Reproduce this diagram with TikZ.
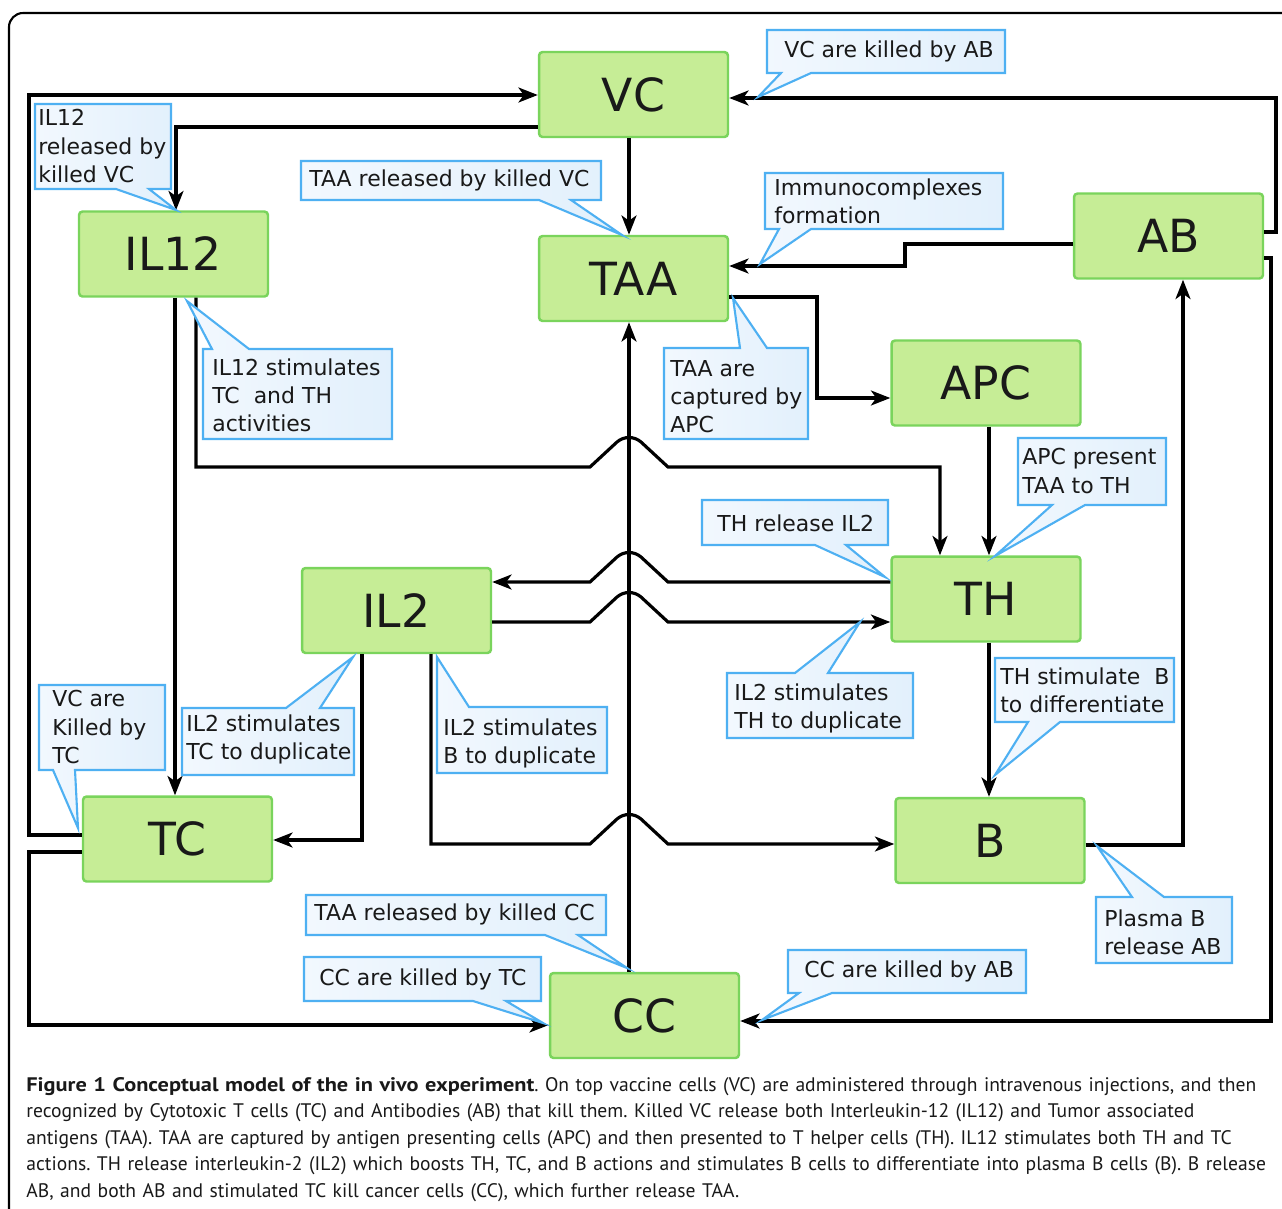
\documentclass[tikz,border=0pt]{standalone}
\usepackage{fontspec}
\setmainfont{DejaVu Sans}
\newfontfamily\capfont[BoldFeatures={FakeStretch=1.14}]{PT Sans}
\usetikzlibrary{arrows.meta}
\frenchspacing

\definecolor{cellfill}{RGB}{198,237,150}
\definecolor{cellline}{RGB}{122,212,92}
\definecolor{notebd}{RGB}{78,176,242}
\definecolor{notefillA}{RGB}{242,248,254}
\definecolor{notefillB}{RGB}{226,240,252}
\definecolor{ink}{RGB}{25,25,25}

\tikzset{
  cell/.style={draw=cellline, fill=cellfill, line width=1.4pt, rounded corners=2pt,
    minimum width=3.78cm, minimum height=1.7cm, inner sep=0pt, text=ink,
    font=\fontsize{26}{30}\selectfont},
  arr/.style={line width=1.8pt, -{Stealth[length=11pt,width=8.5pt,inset=3pt]}},
  note/.style={draw=notebd, line width=1.2pt, left color=notefillA, right color=notefillB},
  notetext/.style={anchor=west, align=left, inner sep=0pt, text=ink,
    font=\fontsize{12.5}{16}\selectfont}
}

% hop over the long TAA line, left to right and right to left
\newcommand{\hop}[1]{-- (617,{#1-25}) .. controls (624,{#1-31}) and (634,{#1-31}) .. (641,{#1-25}) -- (668,#1)}
\newcommand{\hopback}[1]{-- (641,{#1-25}) .. controls (634,{#1-31}) and (624,{#1-31}) .. (617,{#1-25}) -- (590,#1)}

\begin{document}
\begin{tikzpicture}[x=0.02cm, y=-0.02cm]
\useasboundingbox (0,0) rectangle (1282,1208);
\clip (0,0) rectangle (1282,1208);
\fill[white] (0,0) rectangle (1282,1208);
\draw[line width=1.2pt, rounded corners=8pt] (9,1240) -- (9,13) -- (1300,13);

% cells
\node[cell] (vc) at (633.5,94.5) {VC};
\node[cell] (il12) at (173.5,254) {IL12};
\node[cell] (taa) at (633.5,278.5) {TAA};
\node[cell] (ab) at (1168.5,236) {AB};
\node[cell] (apc) at (986,383) {APC};
\node[cell] (th) at (986,599) {TH};
\node[cell] (il2) at (396.5,610.5) {IL2};
\node[cell] (tc) at (177.5,839) {TC};
\node[cell] (b) at (990,840.5) {B};
\node[cell] (cc) at (644.5,1015.5) {CC};

% connectors
\draw[arr] (tc.west |- 0,835) -- (29,835) -- (29,95) -- (vc.west |- 0,95);
\draw[arr] (tc.west |- 0,852) -- (29,852) -- (29,1025) -- (cc.west |- 0,1025);
\draw[arr] (vc.west |- 0,127) -| (il12.north -| 176,0);
\draw[arr] (vc.south -| 629,0) -- (taa.north -| 629,0);
\draw[arr] (ab.east |- 0,232) -- (1276,232) |- (vc.east |- 0,98);
\draw[arr] (ab.west |- 0,244) -| (905,266) -- (taa.east |- 0,266);
\draw[arr] (ab.east |- 0,258) -- (1271,258) |- (cc.east |- 0,1021);
\draw[arr] (taa.east |- 0,297) -| (817,398) -- (apc.west |- 0,398);
\draw[arr] (cc.north -| 629,0) -- (taa.south -| 629,0);
\draw[arr] (il12.south -| 196,0) |- (590,467) \hop{467} -| (th.north -| 940,0);
\draw[arr] (th.west |- 0,582) -- (668,582) \hopback{582} -- (il2.east |- 0,582);
\draw[arr] (il2.east |- 0,622) -- (590,622) \hop{622} -- (th.west |- 0,622);
\draw[arr] (apc.south -| 989,0) -- (th.north -| 989,0);
\draw[arr] (th.south -| 989,0) -- (b.north -| 989,0);
\draw[arr] (il2.south -| 362,0) |- (tc.east |- 0,840);
\draw[arr] (il12.south -| 175,0) -- (tc.north -| 175,0);
\draw[arr] (il2.south -| 431,0) |- (590,844) \hop{844} -- (b.west |- 0,844);
\draw[arr] (b.east |- 0,845) -| (ab.south -| 1183,0);

% callouts
\draw[note] (767,30) -- (1005,30) -- (1005,73) -- (811,73) -- (758,97) -- (781,73) -- (767,73) -- cycle;
\node[notetext] (vcab) at (784,51) {VC are killed by AB};
\draw[note] (765,173) -- (1003,173) -- (1003,229) -- (811,229) -- (760,264) -- (779,229) -- (765,229) -- cycle;
\node[notetext] (immuno) at (774,201) {Immunocomplexes\\formation};
\draw[note] (35,104) -- (171,104) -- (171,189) -- (149,189) -- (176,210) -- (116,189) -- (35,189) -- cycle;
\node[notetext] (il12rel) at (38,146) {IL12\\released by\\killed VC};
\draw[note] (301,161) -- (601,161) -- (601,200) -- (571,200) -- (622,235) -- (539,200) -- (301,200) -- cycle;
\node[notetext] (taavc) at (309,180) {TAA released by killed VC};
\draw[note] (203,349) -- (212,349) -- (187,301) -- (249,349) -- (392,349) -- (392,439) -- (203,439) -- cycle;
\node[notetext] (il12stim) at (212,395) {IL12 stimulates\\TC~ and TH\\activities};
\draw[note] (664,348) -- (740,348) -- (733,298) -- (767,348) -- (808,348) -- (808,439) -- (664,439) -- cycle;
\node[notetext] (taacap) at (670,397) {TAA are\\captured by\\APC};
\draw[note] (1018,438) -- (1166,438) -- (1166,505) -- (1085,505) -- (995,556) -- (1052,505) -- (1018,505) -- cycle;
\node[notetext] (apcpres) at (1022,471) {APC present\\TAA to TH};
\draw[note] (702,500) -- (888,500) -- (888,545) -- (846,545) -- (885,577) -- (815,545) -- (702,545) -- cycle;
\node[notetext] (threl) at (717,523) {TH release IL2};
\draw[note] (727,673) -- (795,673) -- (860,622) -- (828,673) -- (913,673) -- (913,738) -- (727,738) -- cycle;
\node[notetext] (il2th) at (734,708) {IL2 stimulates\\TH to duplicate};
\draw[note] (995,658) -- (1174,658) -- (1174,722) -- (1060,722) -- (995,775) -- (1028,722) -- (995,722) -- cycle;
\node[notetext] (thb) at (1000,690) {TH stimulate~ B\\to differentiate};
\draw[note] (182,708) -- (286,708) -- (353,657) -- (320,708) -- (354,708) -- (354,775) -- (182,775) -- cycle;
\node[notetext] (il2tc) at (186,739) {IL2 stimulates\\TC to duplicate};
\draw[note] (437,707) -- (437,657) -- (469,707) -- (504,707) -- (607,707) -- (607,773) -- (437,773) -- cycle;
\node[notetext] (il2b) at (443,743) {IL2 stimulates\\B to duplicate};
\draw[note] (39,685) -- (165,685) -- (165,770) -- (75,770) -- (78,828) -- (53,770) -- (39,770) -- cycle;
\node[notetext] (vctc) at (52,727) {VC are\\Killed by\\TC};
\draw[note] (306,895) -- (606,895) -- (606,935) -- (578,935) -- (627,968) -- (545,935) -- (306,935) -- cycle;
\node[notetext] (taacc) at (314,914) {TAA released by killed CC};
\draw[note] (304,957) -- (541,957) -- (541,1001) -- (506,1001) -- (543,1023) -- (473,1001) -- (304,1001) -- cycle;
\node[notetext] (cctc) at (319,979) {CC are killed by TC};
\draw[note] (788,950) -- (1026,950) -- (1026,993) -- (832,993) -- (762,1020) -- (799,993) -- (788,993) -- cycle;
\node[notetext] (ccab) at (804,971) {CC are killed by AB};
\draw[note] (1096,897) -- (1132,897) -- (1097,846) -- (1164,897) -- (1232,897) -- (1232,963) -- (1096,963) -- cycle;
\node[notetext] (plasma) at (1104,932) {Plasma B\\release AB};

% caption
\node[anchor=base west, text width=26.5cm, align=left, inner sep=0pt, text=ink,
  font=\capfont\fontsize{11.15}{15.1}\selectfont] (caption) at (26,1091)
  {\hyphenpenalty=10000 \textbf{Figure 1 Conceptual model of the in vivo experiment}. On top vaccine cells (VC) are administered through intravenous injections, and then\\
  recognized by Cytotoxic T cells (TC) and Antibodies (AB) that kill them. Killed VC release both Interleukin-12 (IL12) and Tumor associated\\
  antigens (TAA). TAA are captured by antigen presenting cells (APC) and then presented to T helper cells (TH). IL12 stimulates both TH and TC\\
  actions. TH release interleukin-2 (IL2) which boosts TH, TC, and B actions and stimulates B cells to differentiate into plasma B cells (B). B release\\
  AB, and both AB and stimulated TC kill cancer cells (CC), which further release TAA.};
\end{tikzpicture}
\end{document}
